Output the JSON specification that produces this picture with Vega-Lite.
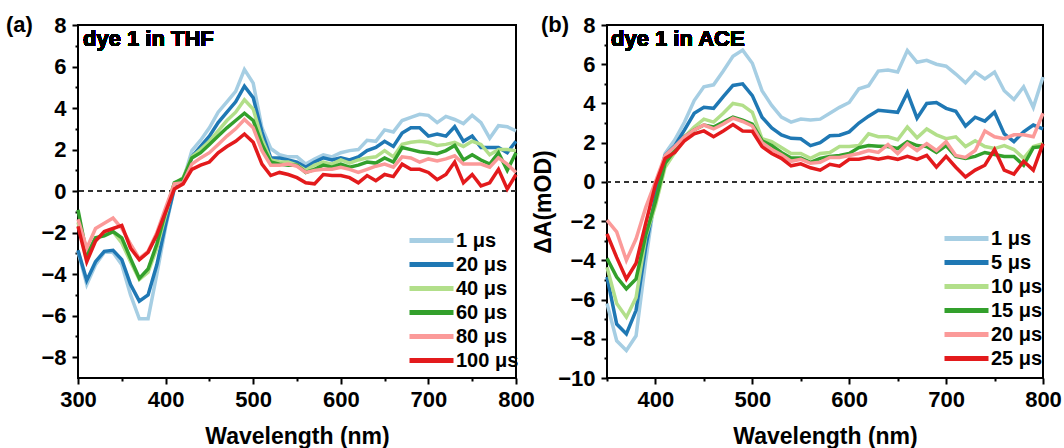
{
"$schema": "https://vega.github.io/schema/vega-lite/v6.json",
"padding": {"left": 5, "top": 13, "right": 1, "bottom": 1},
"background": "white",
"spacing": 91,
"bounds": "flush",
"resolve": {"scale": {"color": "independent", "x": "independent", "y": "independent"}, "legend": {"color": "independent"}},
"config": {
  "font": "Liberation Sans",
  "view": {"stroke": "black", "strokeWidth": 2},
  "axis": {"grid": false, "domain": false, "labelFont": "Liberation Sans", "labelFontSize": 22, "labelFontWeight": "bold", "labelColor": "black", "titleFont": "Liberation Sans", "titleFontSize": 23, "titleFontWeight": "bold", "titleColor": "black", "tickColor": "black", "tickWidth": 2, "labelFlush": false, "labelOverlap": false, "tickCount": 100, "format": "d"},
  "legend": {"orient": "none", "title": null, "padding": 0, "symbolType": "M-2,0H2", "symbolSize": 484, "symbolStrokeWidth": 5, "labelFont": "Liberation Sans", "labelFontSize": 20, "labelFontWeight": "bold", "labelColor": "black", "labelOffset": 11, "rowPadding": 0},
  "title": {"font": "Liberation Sans", "fontSize": 22, "fontWeight": "bold", "color": "black", "anchor": "start", "frame": "group", "offset": 0}
},
"datasets": {
"a": [
{"t":"1 μs","x":300,"y":-2.9},{"t":"1 μs","x":310,"y":-4.5},{"t":"1 μs","x":320,"y":-3.55},{"t":"1 μs","x":330,"y":-2.95},{"t":"1 μs","x":340,"y":-2.95},{"t":"1 μs","x":350,"y":-3.55},{"t":"1 μs","x":360,"y":-5.0},{"t":"1 μs","x":370,"y":-6.15},{"t":"1 μs","x":380,"y":-6.15},{"t":"1 μs","x":390,"y":-4.0},{"t":"1 μs","x":400,"y":-1.75},{"t":"1 μs","x":410,"y":0.15},{"t":"1 μs","x":420,"y":0.5},{"t":"1 μs","x":430,"y":1.95},{"t":"1 μs","x":440,"y":2.45},{"t":"1 μs","x":450,"y":3.05},{"t":"1 μs","x":460,"y":3.8},{"t":"1 μs","x":470,"y":4.3},{"t":"1 μs","x":480,"y":4.8},{"t":"1 μs","x":490,"y":5.85},{"t":"1 μs","x":500,"y":5.2},{"t":"1 μs","x":510,"y":3.05},{"t":"1 μs","x":520,"y":2.05},{"t":"1 μs","x":530,"y":1.75},{"t":"1 μs","x":540,"y":1.65},{"t":"1 μs","x":550,"y":1.65},{"t":"1 μs","x":560,"y":1.3},{"t":"1 μs","x":570,"y":1.55},{"t":"1 μs","x":580,"y":1.75},{"t":"1 μs","x":590,"y":1.65},{"t":"1 μs","x":600,"y":1.85},{"t":"1 μs","x":610,"y":1.95},{"t":"1 μs","x":620,"y":2.0},{"t":"1 μs","x":630,"y":2.45},{"t":"1 μs","x":640,"y":2.4},{"t":"1 μs","x":650,"y":2.95},{"t":"1 μs","x":660,"y":2.85},{"t":"1 μs","x":670,"y":3.4},{"t":"1 μs","x":680,"y":3.55},{"t":"1 μs","x":690,"y":3.7},{"t":"1 μs","x":700,"y":3.65},{"t":"1 μs","x":710,"y":3.3},{"t":"1 μs","x":720,"y":3.6},{"t":"1 μs","x":730,"y":3.45},{"t":"1 μs","x":740,"y":3.25},{"t":"1 μs","x":750,"y":3.65},{"t":"1 μs","x":760,"y":3.3},{"t":"1 μs","x":770,"y":2.55},{"t":"1 μs","x":780,"y":3.15},{"t":"1 μs","x":790,"y":3.1},{"t":"1 μs","x":800,"y":2.9},
{"t":"20 μs","x":300,"y":-2.85},{"t":"20 μs","x":310,"y":-4.3},{"t":"20 μs","x":320,"y":-3.4},{"t":"20 μs","x":330,"y":-2.9},{"t":"20 μs","x":340,"y":-2.85},{"t":"20 μs","x":350,"y":-3.3},{"t":"20 μs","x":360,"y":-4.5},{"t":"20 μs","x":370,"y":-5.3},{"t":"20 μs","x":380,"y":-5.0},{"t":"20 μs","x":390,"y":-3.55},{"t":"20 μs","x":400,"y":-1.6},{"t":"20 μs","x":410,"y":0.15},{"t":"20 μs","x":420,"y":0.5},{"t":"20 μs","x":430,"y":1.65},{"t":"20 μs","x":440,"y":2.15},{"t":"20 μs","x":450,"y":2.65},{"t":"20 μs","x":460,"y":3.3},{"t":"20 μs","x":470,"y":3.8},{"t":"20 μs","x":480,"y":4.3},{"t":"20 μs","x":490,"y":5.05},{"t":"20 μs","x":500,"y":4.5},{"t":"20 μs","x":510,"y":2.85},{"t":"20 μs","x":520,"y":1.6},{"t":"20 μs","x":530,"y":1.6},{"t":"20 μs","x":540,"y":1.5},{"t":"20 μs","x":550,"y":1.4},{"t":"20 μs","x":560,"y":1.15},{"t":"20 μs","x":570,"y":1.4},{"t":"20 μs","x":580,"y":1.6},{"t":"20 μs","x":590,"y":1.5},{"t":"20 μs","x":600,"y":1.6},{"t":"20 μs","x":610,"y":1.5},{"t":"20 μs","x":620,"y":1.65},{"t":"20 μs","x":630,"y":1.95},{"t":"20 μs","x":640,"y":2.1},{"t":"20 μs","x":650,"y":2.4},{"t":"20 μs","x":660,"y":2.15},{"t":"20 μs","x":670,"y":2.8},{"t":"20 μs","x":680,"y":3.05},{"t":"20 μs","x":690,"y":3.05},{"t":"20 μs","x":700,"y":2.65},{"t":"20 μs","x":710,"y":2.75},{"t":"20 μs","x":720,"y":2.65},{"t":"20 μs","x":730,"y":3.1},{"t":"20 μs","x":740,"y":2.4},{"t":"20 μs","x":750,"y":2.65},{"t":"20 μs","x":760,"y":2.1},{"t":"20 μs","x":770,"y":2.1},{"t":"20 μs","x":780,"y":2.1},{"t":"20 μs","x":790,"y":1.85},{"t":"20 μs","x":800,"y":2.4},
{"t":"40 μs","x":300,"y":-1.5},{"t":"40 μs","x":310,"y":-3.15},{"t":"40 μs","x":320,"y":-2.35},{"t":"40 μs","x":330,"y":-2.05},{"t":"40 μs","x":340,"y":-1.95},{"t":"40 μs","x":350,"y":-2.5},{"t":"40 μs","x":360,"y":-3.4},{"t":"40 μs","x":370,"y":-4.25},{"t":"40 μs","x":380,"y":-3.9},{"t":"40 μs","x":390,"y":-2.75},{"t":"40 μs","x":400,"y":-1.15},{"t":"40 μs","x":410,"y":0.35},{"t":"40 μs","x":420,"y":0.65},{"t":"40 μs","x":430,"y":1.65},{"t":"40 μs","x":440,"y":2.0},{"t":"40 μs","x":450,"y":2.4},{"t":"40 μs","x":460,"y":2.9},{"t":"40 μs","x":470,"y":3.4},{"t":"40 μs","x":480,"y":3.8},{"t":"40 μs","x":490,"y":4.4},{"t":"40 μs","x":500,"y":3.95},{"t":"40 μs","x":510,"y":2.5},{"t":"40 μs","x":520,"y":1.5},{"t":"40 μs","x":530,"y":1.4},{"t":"40 μs","x":540,"y":1.4},{"t":"40 μs","x":550,"y":1.25},{"t":"40 μs","x":560,"y":1.0},{"t":"40 μs","x":570,"y":1.25},{"t":"40 μs","x":580,"y":1.4},{"t":"40 μs","x":590,"y":1.3},{"t":"40 μs","x":600,"y":1.5},{"t":"40 μs","x":610,"y":1.35},{"t":"40 μs","x":620,"y":1.5},{"t":"40 μs","x":630,"y":1.6},{"t":"40 μs","x":640,"y":1.65},{"t":"40 μs","x":650,"y":1.95},{"t":"40 μs","x":660,"y":1.65},{"t":"40 μs","x":670,"y":2.25},{"t":"40 μs","x":680,"y":2.35},{"t":"40 μs","x":690,"y":2.4},{"t":"40 μs","x":700,"y":2.35},{"t":"40 μs","x":710,"y":2.2},{"t":"40 μs","x":720,"y":2.25},{"t":"40 μs","x":730,"y":2.35},{"t":"40 μs","x":740,"y":2.15},{"t":"40 μs","x":750,"y":2.4},{"t":"40 μs","x":760,"y":2.25},{"t":"40 μs","x":770,"y":1.75},{"t":"40 μs","x":780,"y":2.0},{"t":"40 μs","x":790,"y":2.0},{"t":"40 μs","x":800,"y":1.95},
{"t":"60 μs","x":300,"y":-0.9},{"t":"60 μs","x":310,"y":-3.05},{"t":"60 μs","x":320,"y":-2.25},{"t":"60 μs","x":330,"y":-2.15},{"t":"60 μs","x":340,"y":-1.95},{"t":"60 μs","x":350,"y":-2.25},{"t":"60 μs","x":360,"y":-3.25},{"t":"60 μs","x":370,"y":-4.2},{"t":"60 μs","x":380,"y":-3.75},{"t":"60 μs","x":390,"y":-2.55},{"t":"60 μs","x":400,"y":-1.0},{"t":"60 μs","x":410,"y":0.4},{"t":"60 μs","x":420,"y":0.6},{"t":"60 μs","x":430,"y":1.6},{"t":"60 μs","x":440,"y":1.85},{"t":"60 μs","x":450,"y":2.25},{"t":"60 μs","x":460,"y":2.65},{"t":"60 μs","x":470,"y":3.05},{"t":"60 μs","x":480,"y":3.4},{"t":"60 μs","x":490,"y":3.75},{"t":"60 μs","x":500,"y":3.4},{"t":"60 μs","x":510,"y":2.25},{"t":"60 μs","x":520,"y":1.4},{"t":"60 μs","x":530,"y":1.3},{"t":"60 μs","x":540,"y":1.25},{"t":"60 μs","x":550,"y":1.25},{"t":"60 μs","x":560,"y":0.9},{"t":"60 μs","x":570,"y":1.05},{"t":"60 μs","x":580,"y":1.25},{"t":"60 μs","x":590,"y":1.15},{"t":"60 μs","x":600,"y":1.3},{"t":"60 μs","x":610,"y":1.15},{"t":"60 μs","x":620,"y":1.25},{"t":"60 μs","x":630,"y":1.4},{"t":"60 μs","x":640,"y":1.35},{"t":"60 μs","x":650,"y":1.6},{"t":"60 μs","x":660,"y":1.4},{"t":"60 μs","x":670,"y":2.1},{"t":"60 μs","x":680,"y":2.0},{"t":"60 μs","x":690,"y":1.9},{"t":"60 μs","x":700,"y":1.85},{"t":"60 μs","x":710,"y":1.8},{"t":"60 μs","x":720,"y":1.95},{"t":"60 μs","x":730,"y":2.2},{"t":"60 μs","x":740,"y":1.5},{"t":"60 μs","x":750,"y":1.75},{"t":"60 μs","x":760,"y":1.5},{"t":"60 μs","x":770,"y":1.3},{"t":"60 μs","x":780,"y":1.85},{"t":"60 μs","x":790,"y":1.0},{"t":"60 μs","x":800,"y":1.85},
{"t":"80 μs","x":300,"y":-1.35},{"t":"80 μs","x":310,"y":-2.75},{"t":"80 μs","x":320,"y":-1.8},{"t":"80 μs","x":330,"y":-1.55},{"t":"80 μs","x":340,"y":-1.3},{"t":"80 μs","x":350,"y":-1.8},{"t":"80 μs","x":360,"y":-2.55},{"t":"80 μs","x":370,"y":-3.25},{"t":"80 μs","x":380,"y":-2.9},{"t":"80 μs","x":390,"y":-2.0},{"t":"80 μs","x":400,"y":-0.8},{"t":"80 μs","x":410,"y":0.35},{"t":"80 μs","x":420,"y":0.4},{"t":"80 μs","x":430,"y":1.3},{"t":"80 μs","x":440,"y":1.6},{"t":"80 μs","x":450,"y":1.85},{"t":"80 μs","x":460,"y":2.25},{"t":"80 μs","x":470,"y":2.65},{"t":"80 μs","x":480,"y":3.0},{"t":"80 μs","x":490,"y":3.45},{"t":"80 μs","x":500,"y":3.05},{"t":"80 μs","x":510,"y":1.95},{"t":"80 μs","x":520,"y":1.25},{"t":"80 μs","x":530,"y":1.25},{"t":"80 μs","x":540,"y":1.3},{"t":"80 μs","x":550,"y":1.2},{"t":"80 μs","x":560,"y":0.9},{"t":"80 μs","x":570,"y":1.0},{"t":"80 μs","x":580,"y":1.05},{"t":"80 μs","x":590,"y":1.05},{"t":"80 μs","x":600,"y":1.15},{"t":"80 μs","x":610,"y":1.05},{"t":"80 μs","x":620,"y":0.9},{"t":"80 μs","x":630,"y":1.05},{"t":"80 μs","x":640,"y":1.2},{"t":"80 μs","x":650,"y":1.3},{"t":"80 μs","x":660,"y":1.15},{"t":"80 μs","x":670,"y":1.65},{"t":"80 μs","x":680,"y":1.6},{"t":"80 μs","x":690,"y":1.4},{"t":"80 μs","x":700,"y":1.55},{"t":"80 μs","x":710,"y":1.45},{"t":"80 μs","x":720,"y":1.55},{"t":"80 μs","x":730,"y":1.7},{"t":"80 μs","x":740,"y":1.3},{"t":"80 μs","x":750,"y":1.3},{"t":"80 μs","x":760,"y":1.3},{"t":"80 μs","x":770,"y":1.15},{"t":"80 μs","x":780,"y":1.6},{"t":"80 μs","x":790,"y":1.3},{"t":"80 μs","x":800,"y":0.9},
{"t":"100 μs","x":300,"y":-1.7},{"t":"100 μs","x":310,"y":-3.4},{"t":"100 μs","x":320,"y":-2.4},{"t":"100 μs","x":330,"y":-1.95},{"t":"100 μs","x":340,"y":-1.8},{"t":"100 μs","x":350,"y":-1.65},{"t":"100 μs","x":360,"y":-2.75},{"t":"100 μs","x":370,"y":-3.3},{"t":"100 μs","x":380,"y":-2.95},{"t":"100 μs","x":390,"y":-2.1},{"t":"100 μs","x":400,"y":-1.0},{"t":"100 μs","x":410,"y":0.1},{"t":"100 μs","x":420,"y":0.35},{"t":"100 μs","x":430,"y":1.05},{"t":"100 μs","x":440,"y":1.25},{"t":"100 μs","x":450,"y":1.4},{"t":"100 μs","x":460,"y":1.85},{"t":"100 μs","x":470,"y":2.15},{"t":"100 μs","x":480,"y":2.4},{"t":"100 μs","x":490,"y":2.75},{"t":"100 μs","x":500,"y":2.35},{"t":"100 μs","x":510,"y":1.3},{"t":"100 μs","x":520,"y":0.75},{"t":"100 μs","x":530,"y":0.9},{"t":"100 μs","x":540,"y":0.8},{"t":"100 μs","x":550,"y":0.65},{"t":"100 μs","x":560,"y":0.4},{"t":"100 μs","x":570,"y":0.35},{"t":"100 μs","x":580,"y":0.8},{"t":"100 μs","x":590,"y":0.75},{"t":"100 μs","x":600,"y":0.75},{"t":"100 μs","x":610,"y":0.65},{"t":"100 μs","x":620,"y":0.4},{"t":"100 μs","x":630,"y":0.75},{"t":"100 μs","x":640,"y":0.5},{"t":"100 μs","x":650,"y":0.8},{"t":"100 μs","x":660,"y":0.7},{"t":"100 μs","x":670,"y":1.3},{"t":"100 μs","x":680,"y":1.05},{"t":"100 μs","x":690,"y":1.05},{"t":"100 μs","x":700,"y":0.9},{"t":"100 μs","x":710,"y":0.55},{"t":"100 μs","x":720,"y":0.8},{"t":"100 μs","x":730,"y":1.4},{"t":"100 μs","x":740,"y":0.4},{"t":"100 μs","x":750,"y":0.8},{"t":"100 μs","x":760,"y":0.25},{"t":"100 μs","x":770,"y":0.4},{"t":"100 μs","x":780,"y":1.05},{"t":"100 μs","x":790,"y":0.1},{"t":"100 μs","x":800,"y":0.8}
],
"b": [
{"t":"1 μs","x":350,"y":-6.2},{"t":"1 μs","x":360,"y":-8.1},{"t":"1 μs","x":370,"y":-8.6},{"t":"1 μs","x":380,"y":-7.85},{"t":"1 μs","x":390,"y":-4.0},{"t":"1 μs","x":400,"y":-0.6},{"t":"1 μs","x":410,"y":1.45},{"t":"1 μs","x":420,"y":2.15},{"t":"1 μs","x":430,"y":3.05},{"t":"1 μs","x":440,"y":4.15},{"t":"1 μs","x":450,"y":4.85},{"t":"1 μs","x":460,"y":4.95},{"t":"1 μs","x":470,"y":5.65},{"t":"1 μs","x":480,"y":6.4},{"t":"1 μs","x":490,"y":6.72},{"t":"1 μs","x":500,"y":6.05},{"t":"1 μs","x":510,"y":4.65},{"t":"1 μs","x":520,"y":3.9},{"t":"1 μs","x":530,"y":3.3},{"t":"1 μs","x":540,"y":3.05},{"t":"1 μs","x":550,"y":3.2},{"t":"1 μs","x":560,"y":3.15},{"t":"1 μs","x":570,"y":3.2},{"t":"1 μs","x":580,"y":3.5},{"t":"1 μs","x":590,"y":3.8},{"t":"1 μs","x":600,"y":4.05},{"t":"1 μs","x":610,"y":4.75},{"t":"1 μs","x":620,"y":4.9},{"t":"1 μs","x":630,"y":5.65},{"t":"1 μs","x":640,"y":5.7},{"t":"1 μs","x":650,"y":5.6},{"t":"1 μs","x":660,"y":6.7},{"t":"1 μs","x":670,"y":6.1},{"t":"1 μs","x":680,"y":6.2},{"t":"1 μs","x":690,"y":6.0},{"t":"1 μs","x":700,"y":5.9},{"t":"1 μs","x":710,"y":5.5},{"t":"1 μs","x":720,"y":5.05},{"t":"1 μs","x":730,"y":5.6},{"t":"1 μs","x":740,"y":5.25},{"t":"1 μs","x":750,"y":5.6},{"t":"1 μs","x":760,"y":4.65},{"t":"1 μs","x":770,"y":4.2},{"t":"1 μs","x":780,"y":4.85},{"t":"1 μs","x":790,"y":3.8},{"t":"1 μs","x":800,"y":5.35},
{"t":"5 μs","x":350,"y":-4.85},{"t":"5 μs","x":360,"y":-7.25},{"t":"5 μs","x":370,"y":-7.75},{"t":"5 μs","x":380,"y":-6.55},{"t":"5 μs","x":390,"y":-3.3},{"t":"5 μs","x":400,"y":-0.75},{"t":"5 μs","x":410,"y":1.35},{"t":"5 μs","x":420,"y":1.85},{"t":"5 μs","x":430,"y":2.65},{"t":"5 μs","x":440,"y":3.5},{"t":"5 μs","x":450,"y":3.8},{"t":"5 μs","x":460,"y":3.75},{"t":"5 μs","x":470,"y":4.35},{"t":"5 μs","x":480,"y":4.92},{"t":"5 μs","x":490,"y":5.0},{"t":"5 μs","x":500,"y":4.4},{"t":"5 μs","x":510,"y":3.3},{"t":"5 μs","x":520,"y":2.75},{"t":"5 μs","x":530,"y":2.4},{"t":"5 μs","x":540,"y":2.22},{"t":"5 μs","x":550,"y":2.2},{"t":"5 μs","x":560,"y":1.85},{"t":"5 μs","x":570,"y":2.0},{"t":"5 μs","x":580,"y":2.35},{"t":"5 μs","x":590,"y":2.38},{"t":"5 μs","x":600,"y":2.55},{"t":"5 μs","x":610,"y":3.0},{"t":"5 μs","x":620,"y":3.35},{"t":"5 μs","x":630,"y":3.65},{"t":"5 μs","x":640,"y":3.6},{"t":"5 μs","x":650,"y":3.55},{"t":"5 μs","x":660,"y":4.55},{"t":"5 μs","x":670,"y":3.25},{"t":"5 μs","x":680,"y":4.0},{"t":"5 μs","x":690,"y":4.05},{"t":"5 μs","x":700,"y":3.75},{"t":"5 μs","x":710,"y":3.6},{"t":"5 μs","x":720,"y":2.85},{"t":"5 μs","x":730,"y":3.3},{"t":"5 μs","x":740,"y":3.1},{"t":"5 μs","x":750,"y":3.55},{"t":"5 μs","x":760,"y":2.45},{"t":"5 μs","x":770,"y":2.05},{"t":"5 μs","x":780,"y":2.55},{"t":"5 μs","x":790,"y":2.9},{"t":"5 μs","x":800,"y":2.7},
{"t":"10 μs","x":350,"y":-4.35},{"t":"10 μs","x":360,"y":-6.2},{"t":"10 μs","x":370,"y":-6.9},{"t":"10 μs","x":380,"y":-5.9},{"t":"10 μs","x":390,"y":-2.8},{"t":"10 μs","x":400,"y":-1.2},{"t":"10 μs","x":410,"y":0.75},{"t":"10 μs","x":420,"y":1.5},{"t":"10 μs","x":430,"y":2.3},{"t":"10 μs","x":440,"y":2.8},{"t":"10 μs","x":450,"y":3.2},{"t":"10 μs","x":460,"y":3.05},{"t":"10 μs","x":470,"y":3.5},{"t":"10 μs","x":480,"y":4.0},{"t":"10 μs","x":490,"y":3.9},{"t":"10 μs","x":500,"y":3.55},{"t":"10 μs","x":510,"y":2.2},{"t":"10 μs","x":520,"y":2.05},{"t":"10 μs","x":530,"y":1.75},{"t":"10 μs","x":540,"y":1.45},{"t":"10 μs","x":550,"y":1.45},{"t":"10 μs","x":560,"y":1.2},{"t":"10 μs","x":570,"y":1.45},{"t":"10 μs","x":580,"y":1.5},{"t":"10 μs","x":590,"y":1.8},{"t":"10 μs","x":600,"y":1.8},{"t":"10 μs","x":610,"y":1.85},{"t":"10 μs","x":620,"y":2.45},{"t":"10 μs","x":630,"y":2.3},{"t":"10 μs","x":640,"y":2.3},{"t":"10 μs","x":650,"y":2.15},{"t":"10 μs","x":660,"y":2.8},{"t":"10 μs","x":670,"y":2.25},{"t":"10 μs","x":680,"y":2.7},{"t":"10 μs","x":690,"y":2.4},{"t":"10 μs","x":700,"y":2.2},{"t":"10 μs","x":710,"y":2.3},{"t":"10 μs","x":720,"y":1.8},{"t":"10 μs","x":730,"y":2.1},{"t":"10 μs","x":740,"y":1.8},{"t":"10 μs","x":750,"y":1.7},{"t":"10 μs","x":760,"y":1.85},{"t":"10 μs","x":770,"y":1.65},{"t":"10 μs","x":780,"y":1.2},{"t":"10 μs","x":790,"y":1.8},{"t":"10 μs","x":800,"y":1.95},
{"t":"15 μs","x":350,"y":-3.9},{"t":"15 μs","x":360,"y":-4.85},{"t":"15 μs","x":370,"y":-5.45},{"t":"15 μs","x":380,"y":-4.95},{"t":"15 μs","x":390,"y":-2.7},{"t":"15 μs","x":400,"y":-1.0},{"t":"15 μs","x":410,"y":0.95},{"t":"15 μs","x":420,"y":1.6},{"t":"15 μs","x":430,"y":2.3},{"t":"15 μs","x":440,"y":2.65},{"t":"15 μs","x":450,"y":2.9},{"t":"15 μs","x":460,"y":2.8},{"t":"15 μs","x":470,"y":3.05},{"t":"15 μs","x":480,"y":3.3},{"t":"15 μs","x":490,"y":3.15},{"t":"15 μs","x":500,"y":2.95},{"t":"15 μs","x":510,"y":2.1},{"t":"15 μs","x":520,"y":1.85},{"t":"15 μs","x":530,"y":1.5},{"t":"15 μs","x":540,"y":1.22},{"t":"15 μs","x":550,"y":1.22},{"t":"15 μs","x":560,"y":1.0},{"t":"15 μs","x":570,"y":1.2},{"t":"15 μs","x":580,"y":1.3},{"t":"15 μs","x":590,"y":1.35},{"t":"15 μs","x":600,"y":1.45},{"t":"15 μs","x":610,"y":1.75},{"t":"15 μs","x":620,"y":1.85},{"t":"15 μs","x":630,"y":1.82},{"t":"15 μs","x":640,"y":1.8},{"t":"15 μs","x":650,"y":1.7},{"t":"15 μs","x":660,"y":2.05},{"t":"15 μs","x":670,"y":1.85},{"t":"15 μs","x":680,"y":1.8},{"t":"15 μs","x":690,"y":1.5},{"t":"15 μs","x":700,"y":1.85},{"t":"15 μs","x":710,"y":1.3},{"t":"15 μs","x":720,"y":1.2},{"t":"15 μs","x":730,"y":1.3},{"t":"15 μs","x":740,"y":1.5},{"t":"15 μs","x":750,"y":1.4},{"t":"15 μs","x":760,"y":1.3},{"t":"15 μs","x":770,"y":1.3},{"t":"15 μs","x":780,"y":0.85},{"t":"15 μs","x":790,"y":1.75},{"t":"15 μs","x":800,"y":1.8},
{"t":"20 μs","x":350,"y":-1.95},{"t":"20 μs","x":360,"y":-2.55},{"t":"20 μs","x":370,"y":-4.0},{"t":"20 μs","x":380,"y":-2.9},{"t":"20 μs","x":390,"y":-1.3},{"t":"20 μs","x":400,"y":0.0},{"t":"20 μs","x":410,"y":1.35},{"t":"20 μs","x":420,"y":1.8},{"t":"20 μs","x":430,"y":2.3},{"t":"20 μs","x":440,"y":2.65},{"t":"20 μs","x":450,"y":2.9},{"t":"20 μs","x":460,"y":2.7},{"t":"20 μs","x":470,"y":2.95},{"t":"20 μs","x":480,"y":3.25},{"t":"20 μs","x":490,"y":3.08},{"t":"20 μs","x":500,"y":2.85},{"t":"20 μs","x":510,"y":2.0},{"t":"20 μs","x":520,"y":1.65},{"t":"20 μs","x":530,"y":1.38},{"t":"20 μs","x":540,"y":1.05},{"t":"20 μs","x":550,"y":1.15},{"t":"20 μs","x":560,"y":0.95},{"t":"20 μs","x":570,"y":1.0},{"t":"20 μs","x":580,"y":1.25},{"t":"20 μs","x":590,"y":1.25},{"t":"20 μs","x":600,"y":1.35},{"t":"20 μs","x":610,"y":1.45},{"t":"20 μs","x":620,"y":1.6},{"t":"20 μs","x":630,"y":1.5},{"t":"20 μs","x":640,"y":1.9},{"t":"20 μs","x":650,"y":1.45},{"t":"20 μs","x":660,"y":1.95},{"t":"20 μs","x":670,"y":1.6},{"t":"20 μs","x":680,"y":1.95},{"t":"20 μs","x":690,"y":1.6},{"t":"20 μs","x":700,"y":2.05},{"t":"20 μs","x":710,"y":1.35},{"t":"20 μs","x":720,"y":1.25},{"t":"20 μs","x":730,"y":1.6},{"t":"20 μs","x":740,"y":2.6},{"t":"20 μs","x":750,"y":2.3},{"t":"20 μs","x":760,"y":2.2},{"t":"20 μs","x":770,"y":2.4},{"t":"20 μs","x":780,"y":2.4},{"t":"20 μs","x":790,"y":2.3},{"t":"20 μs","x":800,"y":3.5},
{"t":"25 μs","x":350,"y":-2.65},{"t":"25 μs","x":360,"y":-3.85},{"t":"25 μs","x":370,"y":-4.95},{"t":"25 μs","x":380,"y":-4.15},{"t":"25 μs","x":390,"y":-2.1},{"t":"25 μs","x":400,"y":-0.15},{"t":"25 μs","x":410,"y":1.2},{"t":"25 μs","x":420,"y":1.5},{"t":"25 μs","x":430,"y":2.1},{"t":"25 μs","x":440,"y":2.45},{"t":"25 μs","x":450,"y":2.6},{"t":"25 μs","x":460,"y":2.3},{"t":"25 μs","x":470,"y":2.6},{"t":"25 μs","x":480,"y":2.92},{"t":"25 μs","x":490,"y":2.6},{"t":"25 μs","x":500,"y":2.58},{"t":"25 μs","x":510,"y":1.8},{"t":"25 μs","x":520,"y":1.45},{"t":"25 μs","x":530,"y":1.2},{"t":"25 μs","x":540,"y":0.82},{"t":"25 μs","x":550,"y":0.92},{"t":"25 μs","x":560,"y":0.72},{"t":"25 μs","x":570,"y":0.6},{"t":"25 μs","x":580,"y":0.9},{"t":"25 μs","x":590,"y":0.8},{"t":"25 μs","x":600,"y":1.15},{"t":"25 μs","x":610,"y":1.15},{"t":"25 μs","x":620,"y":1.25},{"t":"25 μs","x":630,"y":1.15},{"t":"25 μs","x":640,"y":1.25},{"t":"25 μs","x":650,"y":1.15},{"t":"25 μs","x":660,"y":1.3},{"t":"25 μs","x":670,"y":1.15},{"t":"25 μs","x":680,"y":1.35},{"t":"25 μs","x":690,"y":0.75},{"t":"25 μs","x":700,"y":1.3},{"t":"25 μs","x":710,"y":0.75},{"t":"25 μs","x":720,"y":0.25},{"t":"25 μs","x":730,"y":0.6},{"t":"25 μs","x":740,"y":0.85},{"t":"25 μs","x":750,"y":1.65},{"t":"25 μs","x":760,"y":0.6},{"t":"25 μs","x":770,"y":0.4},{"t":"25 μs","x":780,"y":1.05},{"t":"25 μs","x":790,"y":0.6},{"t":"25 μs","x":800,"y":1.95}
]
},
"hconcat": [
{
  "width": 438, "height": 353,
  "title": {"text": "(a)", "dx": -72, "dy": 27},
  "data": {"name": "a"},
  "layer": [
    {"mark": {"type": "rule", "strokeDash": [5, 4], "strokeWidth": 1, "color": "#333"}, "encoding": {"y": {"datum": 0}}},
    {"mark": {"type": "line", "strokeWidth": 3.5},
     "encoding": {
       "x": {"field": "x", "type": "quantitative", "scale": {"domain": [300, 800], "nice": false, "zero": false},
             "axis": {"title": "Wavelength (nm)", "format": "d", "values": [300,350,400,450,500,550,600,650,700,750,800], "tickCount": 100, "labelExpr": "datum.value % 100 === 0 ? datum.label : ''", "labelOverlap": false, "tickSize": {"condition": {"test": "datum.value % 100 === 0", "value": 6}, "value": 3}, "labelPadding": 5, "titlePadding": 15}},
       "y": {"field": "y", "type": "quantitative", "scale": {"domain": [-9, 8], "nice": false, "zero": false},
             "axis": {"title": null, "format": "d", "values": [-8,-7,-6,-5,-4,-3,-2,-1,0,1,2,3,4,5,6,7,8], "tickCount": 100, "labelExpr": "datum.value % 2 === 0 ? datum.label : ''", "labelOverlap": false, "tickSize": {"condition": {"test": "datum.value % 2 === 0", "value": 6}, "value": 3}, "labelPadding": 6}},
       "color": {"field": "t", "type": "nominal", "sort": null,
                 "scale": {"domain": ["1 μs","20 μs","40 μs","60 μs","80 μs","100 μs"], "range": ["#a6cee3","#1f78b4","#b2df8a","#33a02c","#fb9a99","#e31a1c"]},
                 "legend": {"legendX": 340, "legendY": 202}}
     }},
    {"mark": {"type": "text", "align": "left", "baseline": "top", "dx": 5, "dy": 4, "fontSize": 22, "fontWeight": "bold", "font": "Liberation Sans", "color": "black"},
     "encoding": {"x": {"datum": 300}, "y": {"datum": 8}, "text": {"value": "dye 1 in THF"}}}
  ]
},
{
  "width": 436, "height": 353,
  "title": {"text": "(b)", "dx": -66, "dy": 27},
  "data": {"name": "b"},
  "layer": [
    {"mark": {"type": "rule", "strokeDash": [5, 4], "strokeWidth": 1, "color": "#333"}, "encoding": {"y": {"datum": 0}}},
    {"mark": {"type": "line", "strokeWidth": 3.5},
     "encoding": {
       "x": {"field": "x", "type": "quantitative", "scale": {"domain": [350, 800], "nice": false, "zero": false},
             "axis": {"title": "Wavelength (nm)", "format": "d", "values": [350,400,450,500,550,600,650,700,750,800], "tickCount": 100, "labelExpr": "datum.value % 100 === 0 ? datum.label : ''", "labelOverlap": false, "tickSize": {"condition": {"test": "datum.value % 100 === 0", "value": 6}, "value": 3}, "labelPadding": 5, "titlePadding": 15}},
       "y": {"field": "y", "type": "quantitative", "scale": {"domain": [-10, 8], "nice": false, "zero": false},
             "axis": {"title": "ΔA(mOD)", "format": "d", "titlePadding": 2, "values": [-10,-9,-8,-7,-6,-5,-4,-3,-2,-1,0,1,2,3,4,5,6,7,8], "tickCount": 100, "labelExpr": "datum.value % 2 === 0 ? datum.label : ''", "labelOverlap": false, "tickSize": {"condition": {"test": "datum.value % 2 === 0", "value": 6}, "value": 3}, "labelPadding": 6}},
       "color": {"field": "t", "type": "nominal", "sort": null,
                 "scale": {"domain": ["1 μs","5 μs","10 μs","15 μs","20 μs","25 μs"], "range": ["#a6cee3","#1f78b4","#b2df8a","#33a02c","#fb9a99","#e31a1c"]},
                 "legend": {"legendX": 346, "legendY": 200}}
     }},
    {"mark": {"type": "text", "align": "left", "baseline": "top", "dx": 4, "dy": 4, "fontSize": 22, "fontWeight": "bold", "font": "Liberation Sans", "color": "black"},
     "encoding": {"x": {"datum": 350}, "y": {"datum": 8}, "text": {"value": "dye 1 in ACE"}}}
  ]
}
]
}
